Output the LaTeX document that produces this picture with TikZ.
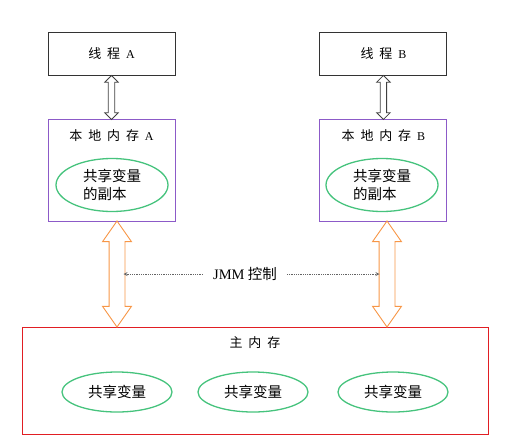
\documentclass[tikz,border=0pt]{standalone}
\usepackage{fontspec}
\setmainfont{Noto Sans CJK SC}
\newfontfamily\latinfont{Liberation Serif}
\usepackage{xcolor}
\usepackage{tikz}
\usetikzlibrary{shapes,arrows}
\usetikzlibrary{positioning}
\usetikzlibrary{calc}
\definecolor{locpurple}{RGB}{140,90,200}
\definecolor{varcolor}{RGB}{70,195,125}
\definecolor{syncorange}{RGB}{247,150,70}
\definecolor{mainred}{RGB}{225,30,35}
\definecolor{ctrlgray}{RGB}{100,100,100}
\tikzstyle{thread} = [rectangle, draw=black!80, line width=0.9pt,
    minimum width=127pt, minimum height=43pt, inner sep=0pt]
\tikzstyle{localmem} = [rectangle, draw=locpurple, line width=0.9pt,
    minimum width=127pt, minimum height=102pt, inner sep=0pt]
\tikzstyle{mainmem} = [rectangle, draw=mainred, line width=0.9pt,
    minimum width=466pt, minimum height=107pt, inner sep=0pt]
\tikzstyle{var} = [ellipse, draw=varcolor, line width=1.3pt, inner sep=0pt,
    minimum width=110pt, minimum height=40pt, align=left,
    font=\fontsize{14.5}{18}\selectfont]
\tikzstyle{title} = [font=\fontsize{13}{15}\selectfont, inner sep=0pt]
\tikzstyle{hollow} = [double arrow, draw=black!75, line width=0.8pt,
    inner sep=2.8pt, double arrow head extend=3.5pt,
    shape border rotate=90, minimum height=44pt]
\tikzstyle{sync} = [double arrow, draw=syncorange, line width=0.9pt,
    inner sep=7.5pt, double arrow head extend=6.5pt, double arrow tip angle=70,
    shape border rotate=90, minimum height=106pt]
\tikzstyle{ctrl} = [draw=ctrlgray, densely dotted, line width=0.8pt, -stealth]
\newcommand{\gap}{\hspace{0.45em}}

\begin{document}
\begin{tikzpicture}[x=1pt, y=-1pt]
  \useasboundingbox (0,0) rectangle (526,444);

  % threads
  \node [thread] (thrA) at (111.5,53.5) {};
  \node [thread, right=144pt of thrA] (thrB) {};
  \node [title] at (thrA) {线\gap 程\gap {\latinfont\large A}};
  \node [title] at (thrB) {线\gap 程\gap {\latinfont\large B}};

  % local memory
  \node [localmem, below=44pt of thrA] (locA) {};
  \node [localmem, below=44pt of thrB] (locB) {};
  \node [title, below=10pt of locA.north] (locAname)
    {本\gap 地\gap 内\gap 存\gap {\latinfont\large A}};
  \node [title, below=10pt of locB.north] (locBname)
    {本\gap 地\gap 内\gap 存\gap {\latinfont\large B}};
  \node [var, minimum width=112pt, minimum height=53pt] (copyA) at (112,185)
    {共享变量\\的副本};
  \node [var, minimum width=112pt, minimum height=53pt] (copyB) at (382,185)
    {共享变量\\的副本};

  % thread <-> local memory
  \node [hollow] (linkA) at ($(thrA.south)!0.5!(locA.north)$) {};
  \node [hollow] (linkB) at ($(thrB.south)!0.5!(locB.north)$) {};

  % main memory
  \node [mainmem] (main) at (255,380.5) {};
  \node [title, below=10pt of main.north] (mainname) {主\gap 内\gap 存};
  \node [var] (var1) at (117,392) {共享变量};
  \node [var] (var2) at (253,392) {共享变量};
  \node [var] (var3) at (393,392) {共享变量};

  % local memory <-> main memory
  \node [sync] (syncA) at (117,274) {};
  \node [sync] (syncB) at (387,274) {};

  % JMM control
  \node [inner xsep=10pt, font=\fontsize{14.5}{16}\selectfont] (jmm) at (245,274)
    {{\latinfont JMM} 控制};
  \coordinate (ctlA) at (123.5,274);
  \coordinate (ctlB) at (379.5,274);
  \path [ctrl] (jmm) -- (ctlA);
  \path [ctrl] (jmm) -- (ctlB);
\end{tikzpicture}
\end{document}
